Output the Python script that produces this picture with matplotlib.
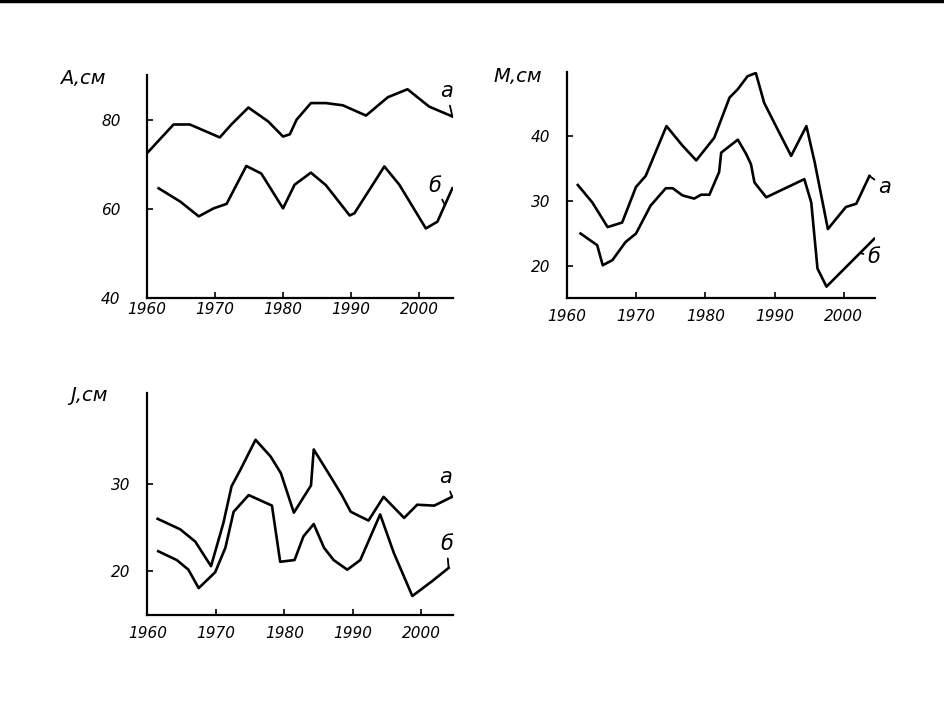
import matplotlib
matplotlib.use("Agg")
import matplotlib.pyplot as plt
from matplotlib.lines import Line2D

plt.rcParams['font.family'] = ['DejaVu Sans']

# ---- Panel A ----
A_a_years = [1960.2, 1963.9, 1966.3, 1970.7, 1972.4, 1974.9, 1977.8, 1980.0, 1981.0, 1982.0,
             1984.1, 1986.3, 1988.8, 1992.2, 1995.4, 1998.3, 2001.5, 2004.9]
A_a_vals = [72.8, 78.9, 78.9, 76.0, 78.9, 82.7, 79.6, 76.2, 76.7, 80.0,
            83.7, 83.7, 83.2, 80.9, 85.0, 86.8, 82.9, 80.7]
A_b_years = [1961.7, 1964.9, 1967.6, 1969.8, 1971.7, 1974.6, 1976.8, 1980.0, 1981.7, 1984.1,
             1986.3, 1989.8, 1990.5, 1994.9, 1997.1, 2001.0, 2002.7, 2004.9]
A_b_vals = [64.6, 61.6, 58.3, 60.1, 61.1, 69.6, 67.9, 60.1, 65.4, 68.1,
            65.3, 58.5, 59.0, 69.5, 65.4, 55.6, 57.1, 64.6]

# ---- Panel M ----
M_a_years = [1961.6, 1963.7, 1965.9, 1968.0, 1970.0, 1971.4, 1974.4, 1976.7, 1978.7, 1981.3,
             1983.5, 1984.7, 1986.1, 1987.3, 1988.5, 1990.2, 1992.4, 1994.6, 1995.8, 1997.7,
             2000.3, 2001.8, 2003.7]
M_a_vals = [32.5, 29.8, 26.0, 26.7, 32.2, 33.9, 41.6, 38.6, 36.3, 39.8,
            46.0, 47.3, 49.3, 49.8, 45.2, 41.6, 37.0, 41.6, 36.0, 25.7,
            29.1, 29.6, 33.9]
M_b_years = [1962.0, 1964.4, 1965.2, 1966.6, 1968.5, 1970.0, 1972.1, 1974.3, 1975.3, 1976.7,
             1978.4, 1979.4, 1980.6, 1982.0, 1982.3, 1984.7, 1985.9, 1986.6, 1987.1, 1988.8,
             1994.3, 1995.3, 1996.2, 1997.5, 2000.3, 2004.4]
M_b_vals = [25.0, 23.2, 20.1, 20.9, 23.7, 25.0, 29.3, 32.0, 32.0, 30.9,
            30.4, 31.0, 31.0, 34.5, 37.5, 39.5, 37.3, 35.7, 32.9, 30.6,
            33.4, 29.8, 19.6, 16.8, 19.8, 24.2]

# ---- Panel J ----
J_a_years = [1961.5, 1964.8, 1967.0, 1969.3, 1971.1, 1972.3, 1973.6, 1975.8, 1978.0, 1979.5,
             1981.4, 1983.9, 1984.3, 1987.0, 1988.4, 1989.7, 1992.3, 1994.5, 1997.5, 1999.4,
             2001.9, 2004.5]
J_a_vals = [26.0, 24.8, 23.4, 20.6, 25.5, 29.7, 31.6, 35.0, 33.1, 31.2,
            26.7, 29.8, 33.9, 30.5, 28.7, 26.8, 25.8, 28.5, 26.1, 27.6,
            27.5, 28.5]
J_b_years = [1961.6, 1964.3, 1966.0, 1967.5, 1969.9, 1971.4, 1972.6, 1974.8, 1978.2, 1979.4,
             1981.5, 1982.8, 1984.3, 1985.8, 1987.2, 1989.2, 1991.1, 1994.0, 1996.0, 1998.7,
             2001.6, 2004.0]
J_b_vals = [22.3, 21.3, 20.2, 18.1, 19.9, 22.7, 26.8, 28.7, 27.5, 21.1,
            21.3, 24.0, 25.4, 22.7, 21.3, 20.2, 21.3, 26.5, 22.1, 17.2,
            18.9, 20.4]

x_ticks = [1960, 1970, 1980, 1990, 2000]
A_yticks = [40, 60, 80]
M_yticks = [20, 30, 40]
J_yticks = [20, 30]
series_labels = ['а', 'б']

fig = plt.figure(figsize=(9.45, 7.08), dpi=100)
fig.patch.set_facecolor('white')

LW = 1.9
tick_font = dict(fontsize=11, fontstyle='italic')


def setup(ax, xlim, ylim, yticks, ypad, xpad, title, title_xy):
    ax.set_xlim(*xlim)
    ax.set_ylim(*ylim)
    for s in ['top', 'right']:
        ax.spines[s].set_visible(False)
    for s in ['left', 'bottom']:
        ax.spines[s].set_linewidth(1.6)
    ax.set_xticks(x_ticks)
    ax.set_yticks(yticks)
    ax.set_xticklabels([str(t) for t in x_ticks], **tick_font)
    ax.set_yticklabels([str(t) for t in yticks], **tick_font)
    ax.tick_params(axis='x', direction='in', length=4, width=1.2, pad=xpad)
    ax.tick_params(axis='y', direction='in', length=4, width=1.2, pad=ypad)
    fig.text(title_xy[0], title_xy[1], title, fontsize=14, fontstyle='italic',
             ha='left', va='center')


def label(ax, text, xy, off):
    ax.annotate(text, xy=xy, xytext=off, textcoords='offset points',
                fontsize=15, fontstyle='italic', ha='center', va='center',
                arrowprops=dict(arrowstyle='-', lw=1.3, color='black',
                                shrinkA=1, shrinkB=0))


# Panel A (top-left)
ax1 = fig.add_axes([0.1556, 0.5791, 0.3238, 0.315])
ax1.plot(A_a_years, A_a_vals, color='black', lw=LW)
ax1.plot(A_b_years, A_b_vals, color='black', lw=LW)
setup(ax1, (1960, 2005), (40, 90), A_yticks, 19, 3, 'A,см', (60 / 945, 1 - 78 / 708))
label(ax1, series_labels[0], (A_a_years[-1], A_a_vals[-1]), (-4, 18))
label(ax1, series_labels[1], ((A_b_years[-2] + A_b_years[-1]) / 2,
                              (A_b_vals[-2] + A_b_vals[-1]) / 2), (-7, 14))

# Panel M (top-right)
ax2 = fig.add_axes([0.5997, 0.5787, 0.3262, 0.32])
ax2.plot(M_a_years, M_a_vals, color='black', lw=LW)
ax2.plot(M_b_years, M_b_vals, color='black', lw=LW)
setup(ax2, (1960, 2004.5), (15, 50), M_yticks, 12, 8, 'M,см', (493 / 945, 1 - 76 / 708))
label(ax2, series_labels[0], (M_a_years[-1], M_a_vals[-1]), (11, -8))
label(ax2, series_labels[1], ((M_b_years[-2] + M_b_years[-1]) / 2,
                              (M_b_vals[-2] + M_b_vals[-1]) / 2), (10, -3))

# Panel J (bottom-left)
ax3 = fig.add_axes([0.1559, 0.1309, 0.3232, 0.3136])
ax3.plot(J_a_years, J_a_vals, color='black', lw=LW)
ax3.plot(J_b_years, J_b_vals, color='black', lw=LW)
setup(ax3, (1960, 2004.6), (15, 40.3), J_yticks, 12, 8, 'J,см', (70 / 945, 1 - 396 / 708))
label(ax3, series_labels[0], (J_a_years[-1], J_a_vals[-1]), (-5, 14))
label(ax3, series_labels[1], (J_b_years[-1], J_b_vals[-1]), (-1.5, 17))

# top border line of the scanned page
fig.add_artist(Line2D([0, 1], [0.998, 0.998], transform=fig.transFigure,
                      color='black', lw=2.5))

fig.savefig('out.png', dpi=100, facecolor='white')
